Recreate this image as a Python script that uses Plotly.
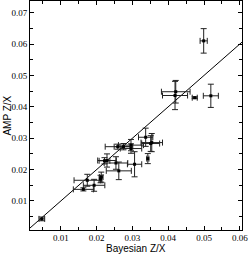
import plotly.graph_objects as go

bayes_zx = [0.0047, 0.0499, 0.0421, 0.0419, 0.0474, 0.0519, 0.0337, 0.0354, 0.0351, 0.0343,
            0.0306, 0.0254, 0.0262, 0.0222, 0.0229, 0.0213, 0.0211, 0.0193, 0.0174, 0.0163,
            0.0259, 0.0275, 0.0296, 0.0296]
amp_zx = [0.0043, 0.0610, 0.0448, 0.0436, 0.0429, 0.0435, 0.0303, 0.0286, 0.0283, 0.0235,
          0.0217, 0.0221, 0.0196, 0.0228, 0.0229, 0.0176, 0.0170, 0.0150, 0.0166, 0.0137,
          0.0273, 0.0273, 0.0278, 0.0267]
bayes_err = [0.0008, 0.0010, 0.0040, 0.0035, 0.0007, 0.0021, 0.0020, 0.0030, 0.0025, 0.0003,
             0.0020, 0.0033, 0.0035, 0.0015, 0.0026, 0.0005, 0.0004, 0.0030, 0.0037, 0.0028,
             0.0035, 0.0026, 0.0035, 0.0030]
amp_err = [0.0006, 0.0039, 0.0036, 0.0045, 0.0003, 0.0037, 0.0029, 0.0029, 0.0025, 0.0016,
           0.0040, 0.0020, 0.0028, 0.0010, 0.0021, 0.0016, 0.0012, 0.0019, 0.0019, 0.0005,
           0.0008, 0.0010, 0.0018, 0.0015]
line_xy = [0.0, 0.07]
x_ticks = [0.01, 0.02, 0.03, 0.04, 0.05, 0.06]
y_ticks = [0.01, 0.02, 0.03, 0.04, 0.05, 0.06, 0.07]

fig = go.Figure()
fig.add_trace(go.Scatter(x=line_xy, y=line_xy, mode="lines",
                         line=dict(color="black", width=1), showlegend=False))
fig.add_trace(go.Scatter(
    x=bayes_zx, y=amp_zx, mode="markers",
    marker=dict(symbol="square", size=3, color="black"),
    error_x=dict(type="data", array=bayes_err, color="#222", thickness=1, width=3),
    error_y=dict(type="data", array=amp_err, color="#222", thickness=1, width=3),
    showlegend=False))

tickfont = dict(family="Liberation Serif, Times New Roman, serif", size=9, color="black")
titlefont = dict(family="Liberation Sans, Arial, sans-serif", size=10, color="black")
common = dict(ticks="inside", ticklen=4, tickcolor="black", mirror="allticks",
              showline=True, linecolor="black", linewidth=1, showgrid=False,
              zeroline=False, automargin=False, tickfont=tickfont,
              minor=dict(dtick=0.005, tick0=0, ticks="inside", ticklen=3,
                         tickcolor="black"))
fig.update_layout(
    width=249, height=255,
    margin=dict(l=30, r=7, t=1, b=25),
    paper_bgcolor="white", plot_bgcolor="white",
    xaxis=dict(range=[0.0014, 0.0606], tickvals=x_ticks, ticklabelstandoff=-1,
               ticktext=[f"{v:.2f}" for v in x_ticks], **common),
    yaxis=dict(range=[0.00076, 0.0737], tickvals=y_ticks,
               ticktext=[f"{v:.2f}" for v in y_ticks], **common),
    annotations=[
        dict(text="Bayesian Z/X", x=0.5, y=-0.082, xref="paper", yref="paper",
             xanchor="center", yanchor="middle", showarrow=False, font=titlefont),
        dict(text="AMP Z/X", x=-0.108, y=0.5, xref="paper", yref="paper",
             xanchor="center", yanchor="middle", showarrow=False, font=titlefont,
             textangle=-90),
    ],
)
fig.write_html("out.html", config={"displayModeBar": False}, post_script=(
    "document.body.style.margin='0';document.body.style.padding='0';"
    "document.body.style.overflow='hidden';"))
